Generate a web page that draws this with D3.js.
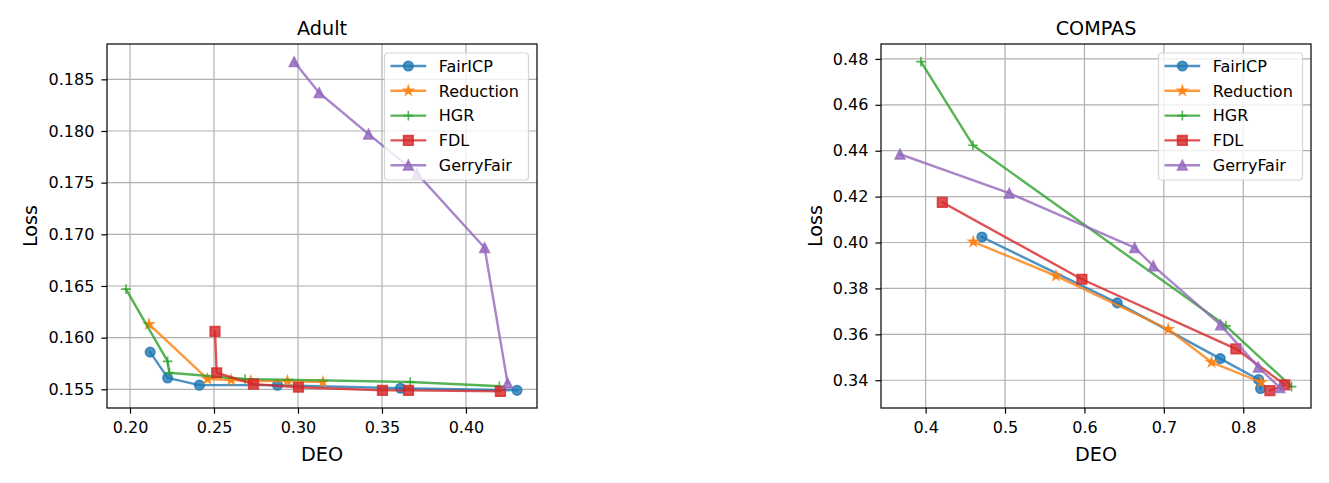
<!DOCTYPE html>
<html>
<head>
<meta charset="utf-8">
<script src="https://cdn.jsdelivr.net/npm/d3@7"></script>
<style>
  body { margin: 0; background: #fff; }
  svg { font-family: "DejaVu Sans", sans-serif; }
</style>
</head>
<body>
<svg width="1329" height="483"></svg>
<script>
// series names, colours, markers
var methods = ["FairICP", "Reduction", "HGR", "FDL", "GerryFair"];
var colors = ["#1f77b4", "#ff7f0e", "#2ca02c", "#d62728", "#9467bd"];
var markers = ["circle", "star", "plus", "square", "triangle"];

// Adult: [DEO, Loss]
var adultFairICP = [[0.212, 0.1586], [0.2224, 0.1561], [0.2413, 0.1554], [0.2878, 0.1554], [0.361, 0.1551], [0.4304, 0.1549]];
var adultReduction = [[0.2113, 0.1613], [0.2461, 0.1560], [0.2602, 0.1559], [0.2719, 0.1558], [0.2937, 0.1558], [0.3148, 0.1557]];
var adultHGR = [[0.1976, 0.1647], [0.2224, 0.1577], [0.2234, 0.1566], [0.2685, 0.1560], [0.3668, 0.1557], [0.4199, 0.1553]];
var adultFDL = [[0.2506, 0.1606], [0.2516, 0.1566], [0.2735, 0.1555], [0.3003, 0.1552], [0.3503, 0.1549], [0.3658, 0.1549], [0.4205, 0.1548]];
var adultGerryFair = [[0.2977, 0.1867], [0.3126, 0.1837], [0.342, 0.1797], [0.3708, 0.1759], [0.4111, 0.1687], [0.4248, 0.1556]];

// COMPAS: [DEO, Loss]
var compasFairICP = [[0.4709, 0.4024], [0.6413, 0.3737], [0.771, 0.3494], [0.8193, 0.3403], [0.8218, 0.3364]];
var compasReduction = [[0.460, 0.4003], [0.5641, 0.3855], [0.7055, 0.3622], [0.7601, 0.3478], [0.8226, 0.3391]];
var compasHGR = [[0.3941, 0.4788], [0.4596, 0.4424], [0.7782, 0.3637], [0.8608, 0.3372]];
var compasFDL = [[0.421, 0.4175], [0.5968, 0.3840], [0.7907, 0.3537], [0.8524, 0.3380], [0.8335, 0.3355]];
var compasGerryFair = [[0.3677, 0.4385], [0.5053, 0.4215], [0.6632, 0.3978], [0.6867, 0.3898], [0.7714, 0.3641], [0.8189, 0.3457], [0.8461, 0.3368]];

// ticks
var adultXTicks = [0.20, 0.25, 0.30, 0.35, 0.40];
var adultYTicks = [0.155, 0.160, 0.165, 0.170, 0.175, 0.180, 0.185];
var compasXTicks = [0.4, 0.5, 0.6, 0.7, 0.8];
var compasYTicks = [0.34, 0.36, 0.38, 0.40, 0.42, 0.44, 0.46, 0.48];

var svg = d3.select("svg");
var ms = 9.6, lw = 2.4;

function markerPath(type, s) {
  var h = s / 2;
  if (type == "circle") return d3.symbol(d3.symbolCircle, Math.PI * h * h)();
  if (type == "square") return "M" + (-h) + "," + (-h) + "h" + s + "v" + s + "h" + (-s) + "Z";
  if (type == "triangle") return "M0," + (-h) + "L" + h + "," + h + "L" + (-h) + "," + h + "Z";
  if (type == "plus") return "M" + (-h) + ",0H" + h + "M0," + (-h) + "V" + h;
  // star
  var pts = [];
  for (var i = 0; i < 10; i++) {
    var r = i % 2 == 0 ? h : h * 0.381966;
    var a = -Math.PI / 2 + i * Math.PI / 5;
    pts.push([r * Math.cos(a), r * Math.sin(a)]);
  }
  return "M" + pts.join("L") + "Z";
}

function drawMarker(g, type, color, x, y) {
  g.append("path")
    .attr("d", markerPath(type, ms))
    .attr("transform", "translate(" + x + "," + y + ")")
    .attr("fill", type == "plus" ? "none" : color)
    .attr("fill-opacity", 0.8)
    .attr("stroke", color)
    .attr("stroke-opacity", 0.8)
    .attr("stroke-width", 1.6)
    .attr("stroke-linejoin", "miter");
}

function drawPanel(opt) {
  var left = opt.left, top = 44, w = 430, h = 364;
  var g = svg.append("g").attr("transform", "translate(" + left + "," + top + ")");

  var x = d3.scaleLinear().domain(opt.xDomain).range([0, w]);
  var y = d3.scaleLinear().domain(opt.yDomain).range([h, 0]);

  // grid
  g.selectAll(".vgrid").data(opt.xTicks).enter().append("line")
    .attr("x1", function(d) { return x(d); }).attr("x2", function(d) { return x(d); })
    .attr("y1", 0).attr("y2", h)
    .attr("stroke", "#b0b0b0").attr("stroke-width", 1.2);
  g.selectAll(".hgrid").data(opt.yTicks).enter().append("line")
    .attr("y1", function(d) { return y(d); }).attr("y2", function(d) { return y(d); })
    .attr("x1", 0).attr("x2", w)
    .attr("stroke", "#b0b0b0").attr("stroke-width", 1.2);

  // series
  var line = d3.line().x(function(d) { return x(d[0]); }).y(function(d) { return y(d[1]); });
  opt.series.forEach(function(s, i) {
    g.append("path").datum(s)
      .attr("d", line)
      .attr("fill", "none")
      .attr("stroke", colors[i])
      .attr("stroke-opacity", 0.8)
      .attr("stroke-width", lw)
      .attr("stroke-linejoin", "round")
      .attr("stroke-linecap", "square");
    s.forEach(function(d) { drawMarker(g, markers[i], colors[i], x(d[0]), y(d[1])); });
  });

  // axes
  var xAxis = g.append("g").attr("transform", "translate(0," + h + ")")
    .call(d3.axisBottom(x).tickValues(opt.xTicks).tickFormat(d3.format(opt.xFmt)).tickSize(5.6).tickPadding(8).tickSizeOuter(0));
  var yAxis = g.append("g")
    .call(d3.axisLeft(y).tickValues(opt.yTicks).tickFormat(d3.format(opt.yFmt)).tickSize(5.6).tickPadding(7).tickSizeOuter(0));
  [xAxis, yAxis].forEach(function(a) {
    a.select(".domain").remove();
    a.selectAll("line").attr("stroke", "#000").attr("stroke-width", 1.2);
    a.selectAll("text").attr("font-size", "16px").attr("fill", "#000").attr("font-family", "DejaVu Sans");
  });

  // frame
  g.append("rect").attr("width", w).attr("height", h)
    .attr("fill", "none").attr("stroke", "#000").attr("stroke-width", 1.2);

  // title and labels
  g.append("text").attr("x", w / 2).attr("y", -9).attr("text-anchor", "middle")
    .attr("font-size", "19.2px").text(opt.title);
  g.append("text").attr("x", w / 2).attr("y", h + 53).attr("text-anchor", "middle")
    .attr("font-size", "19.2px").text("DEO");
  g.append("text")
    .attr("transform", "translate(" + (-opt.ylabOff) + "," + (h / 2) + ") rotate(-90)")
    .attr("text-anchor", "middle")
    .attr("font-size", "19.2px").text("Loss");

  // legend
  var lg = g.append("g").attr("transform", "translate(" + (w - 8.5 - 144) + ",9)");
  lg.append("rect").attr("width", 144).attr("height", 127).attr("rx", 3)
    .attr("fill", "#fff").attr("fill-opacity", 0.8)
    .attr("stroke", "#cccccc").attr("stroke-opacity", 0.8).attr("stroke-width", 1.2);
  methods.forEach(function(m, i) {
    var yy = 13 + i * 24.8;
    lg.append("line").attr("x1", 6).attr("x2", 41.7).attr("y1", yy).attr("y2", yy)
      .attr("stroke", colors[i]).attr("stroke-opacity", 0.8).attr("stroke-width", lw);
    drawMarker(lg, markers[i], colors[i], 23.85, yy);
    lg.append("text").attr("x", 54.3).attr("y", yy).attr("dy", "0.36em")
      .attr("font-size", "16px").text(m);
  });
}

drawPanel({
  left: 107, title: "Adult",
  xDomain: [0.1863, 0.4423], yDomain: [0.15319, 0.18842],
  xTicks: adultXTicks, yTicks: adultYTicks, xFmt: ".2f", yFmt: ".3f", ylabOff: 70,
  series: [adultFairICP, adultReduction, adultHGR, adultFDL, adultGerryFair]
});

drawPanel({
  left: 881, title: "COMPAS",
  xDomain: [0.3438, 0.8853], yDomain: [0.3279, 0.4865],
  xTicks: compasXTicks, yTicks: compasYTicks, xFmt: ".1f", yFmt: ".2f", ylabOff: 59,
  series: [compasFairICP, compasReduction, compasHGR, compasFDL, compasGerryFair]
});
</script>
</body>
</html>
